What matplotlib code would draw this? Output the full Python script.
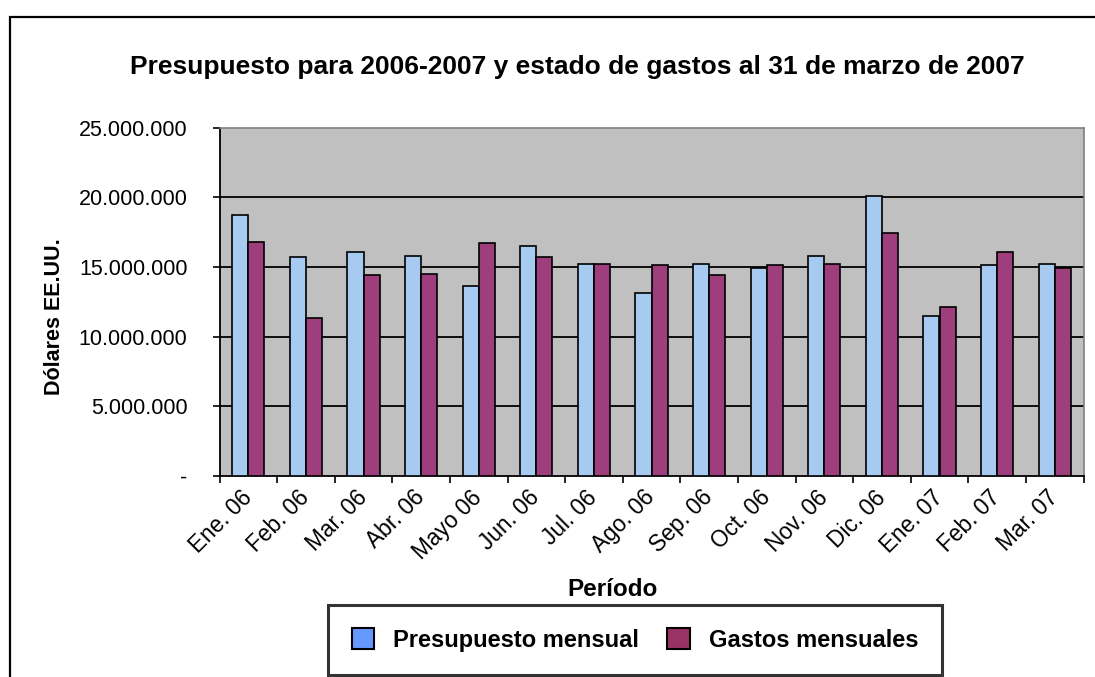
import matplotlib
matplotlib.use("Agg")
import matplotlib.pyplot as plt
from matplotlib.patches import Patch, Rectangle
from matplotlib.ticker import FuncFormatter
import numpy as np

plt.rcParams["font.family"] = ["Liberation Sans", "DejaVu Sans"]

# Data (US dollars)
periods = ["Ene. 06", "Feb. 06", "Mar. 06", "Abr. 06", "Mayo 06", "Jun. 06",
           "Jul. 06", "Ago. 06", "Sep. 06", "Oct. 06", "Nov. 06", "Dic. 06",
           "Ene. 07", "Feb. 07", "Mar. 07"]
presupuesto = [18720000, 15690000, 16070000, 15760000, 13650000, 16500000,
               15210000, 13100000, 15210000, 14900000, 15760000, 20090000,
               11500000, 15110000, 15210000]
gastos = [16810000, 11310000, 14400000, 14490000, 16690000, 15690000,
          15210000, 15110000, 14400000, 15110000, 15210000, 17430000,
          12150000, 16070000, 14900000]
y_ticks = [0, 5000000, 10000000, 15000000, 20000000, 25000000]

BAR_BLUE = "#A6CAF0"
BAR_MAROON = "#9F3E7D"
LEG_BLUE = "#6699FF"
LEG_MAROON = "#993366"

W, H = 1095, 677
fig = plt.figure(figsize=(W / 100, H / 100), dpi=100, facecolor="white")

# outer chart border (runs off right and bottom edges)
fig.patches.append(Rectangle((9.5 / W, -0.2), 1.2, 1 - 17 / H + 0.2,
                             transform=fig.transFigure, fill=False,
                             edgecolor="black", linewidth=1.6))

ax = fig.add_axes([219.5 / W, 1 - 476 / H, (1083.5 - 219.5) / W, (476 - 127.5) / H])
ax.set_facecolor("#C0C0C0")

x = np.arange(len(periods)) + 0.5
bw = 0.28
ax.bar(x - bw / 2, presupuesto, bw, color=BAR_BLUE, edgecolor="black", linewidth=1.2, zorder=3)
ax.bar(x + bw / 2, gastos, bw, color=BAR_MAROON, edgecolor="black", linewidth=1.2, zorder=3)

ax.set_xlim(0, len(periods))
ax.set_ylim(0, 25000000)

# gridlines
for v in y_ticks[1:-1]:
    ax.axhline(v, color="black", linewidth=1.3, zorder=1)

ax.set_yticks(y_ticks)
ax.yaxis.set_major_formatter(FuncFormatter(
    lambda v, p: "-" if v == 0 else f"{int(v):,}".replace(",", ".")))
ax.tick_params(axis="y", direction="out", length=5, width=1.2, pad=18,
               labelsize=15.5, colors="black")

ax.set_xticks(np.arange(len(periods) + 1))
ax.set_xticklabels([])
ax.set_xticks(x, minor=True)
ax.set_xticklabels(periods, minor=True, rotation=45, ha="right",
                   va="center", rotation_mode="anchor", fontsize=16.3)
ax.tick_params(axis="x", which="major", direction="out", length=5, width=1.2)
ax.tick_params(axis="x", which="minor", length=0, pad=13)

for side in ("left", "bottom"):
    ax.spines[side].set_color("black")
    ax.spines[side].set_linewidth(1.3)
for side in ("top", "right"):
    ax.spines[side].set_color("#808080")
    ax.spines[side].set_linewidth(1.2)

fig.text(577 / W, 1 - 67 / H,
         "Presupuesto para 2006-2007 y estado de gastos al 31 de marzo de 2007",
         ha="center", va="center", fontsize=19, fontweight="bold")
fig.text(55 / W, 1 - 317 / H, "Dólares EE.UU.", rotation=90,
         ha="center", va="center", fontsize=15.5, fontweight="bold")
fig.text(613 / W, 1 - 590 / H, "Período", ha="center", va="center",
         fontsize=17.5, fontweight="bold")

handles = [Patch(facecolor=LEG_BLUE, edgecolor="black", linewidth=1.5),
           Patch(facecolor=LEG_MAROON, edgecolor="black", linewidth=1.5)]
leg = fig.legend(handles, ["Presupuesto mensual", "Gastos mensuales"],
                 loc="center", bbox_to_anchor=(635 / W, 1 - 640 / H),
                 ncol=2, frameon=True, fancybox=False, handlelength=0.95,
                 handleheight=0.95, handletextpad=0.8, columnspacing=1.2,
                 borderpad=1.0, borderaxespad=0,
                 prop={"weight": "bold", "size": 17})
leg.get_frame().set_edgecolor("black")
leg.get_frame().set_linewidth(2.2)

fig.savefig("out.png", dpi=100, facecolor="white")
